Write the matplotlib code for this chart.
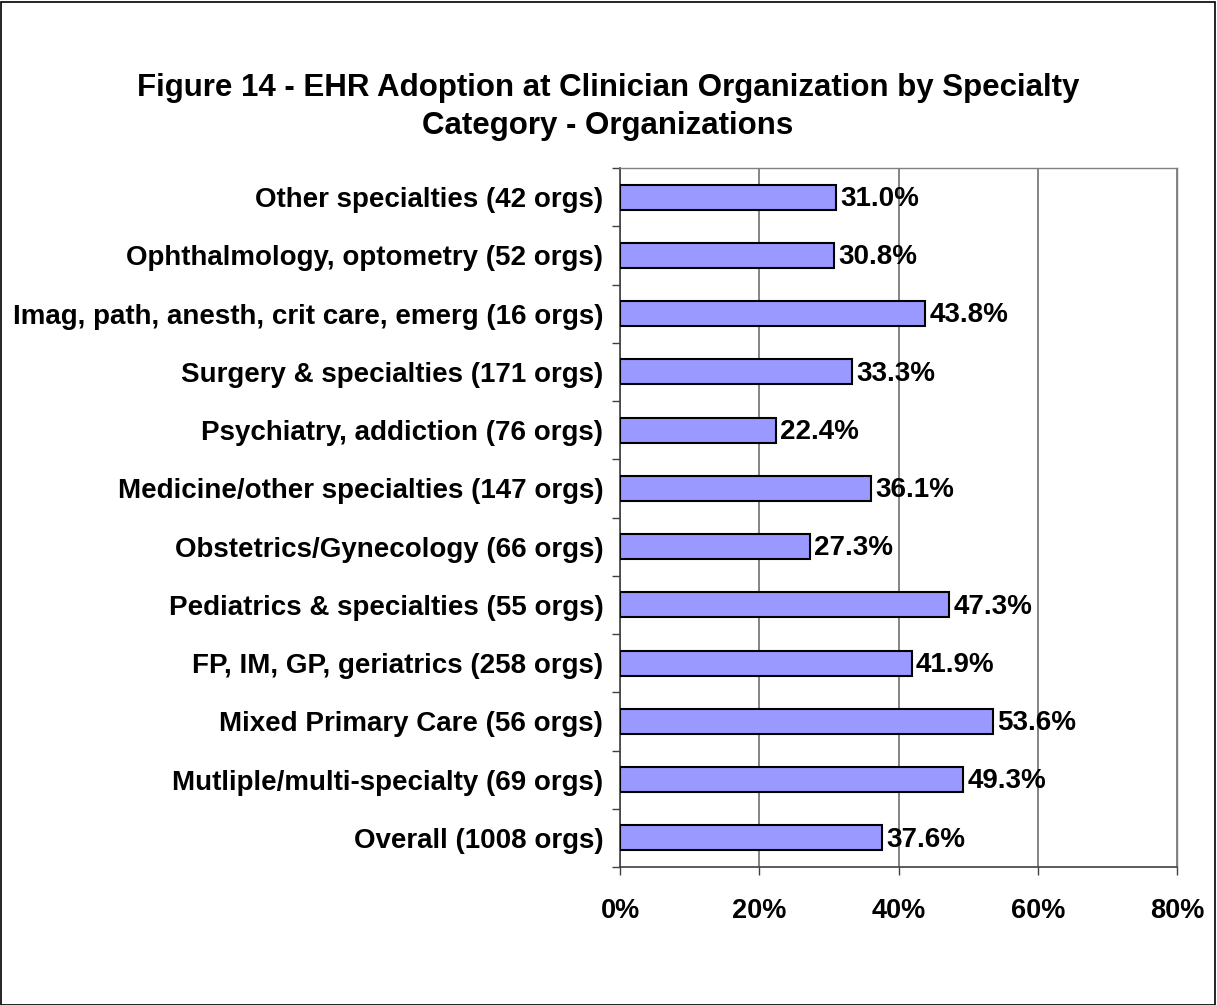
import matplotlib
matplotlib.use("Agg")
import matplotlib.pyplot as plt
from matplotlib.patches import Rectangle
import numpy as np

categories = [
    "Other specialties (42 orgs)",
    "Ophthalmology, optometry (52 orgs)",
    "Imag, path, anesth, crit care, emerg (16 orgs)",
    "Surgery & specialties (171 orgs)",
    "Psychiatry, addiction (76 orgs)",
    "Medicine/other specialties (147 orgs)",
    "Obstetrics/Gynecology (66 orgs)",
    "Pediatrics & specialties (55 orgs)",
    "FP, IM, GP, geriatrics (258 orgs)",
    "Mixed Primary Care (56 orgs)",
    "Mutliple/multi-specialty (69 orgs)",
    "Overall (1008 orgs)",
]
values = [31.0, 30.8, 43.8, 33.3, 22.4, 36.1, 27.3, 47.3, 41.9, 53.6, 49.3, 37.6]
xticks = [0, 20, 40, 60, 80]
xticklabels = ["0%", "20%", "40%", "60%", "80%"]
title = "Figure 14 - EHR Adoption at Clinician Organization by Specialty\nCategory - Organizations"

plt.rcParams['font.family'] = ['Liberation Sans', 'DejaVu Sans']

W, H = 1217, 1005
fig = plt.figure(figsize=(W / 100, H / 100), dpi=100)
ax = fig.add_axes([620 / W, 1 - 867 / H, (1177 - 620) / W, (867 - 168) / H])

n = len(categories)
y = np.arange(n)[::-1]
ax.barh(y, values, height=0.43, color="#9999FF", edgecolor="black", linewidth=1.5, zorder=3)
ax.set_ylim(-0.5, n - 0.5)
ax.set_xlim(0, 80)

for yi, v in zip(y, values):
    ax.text(v + 0.6, yi - 0.03, f"{v:.1f}%", va="center", ha="left", fontsize=20,
            fontweight="bold", zorder=4)

ax.set_yticks(y)
ax.set_yticklabels(categories, fontsize=20, fontweight="bold")
ax.tick_params(axis="y", which="major", length=0, pad=12)
ax.set_yticks(np.arange(-0.5, n, 1.0), minor=True)
ax.tick_params(axis="y", which="minor", length=6, width=1, color="#404040", direction="out")

ax.set_xticks(xticks)
ax.set_xticklabels(xticklabels, fontsize=19.5, fontweight="bold")
ax.tick_params(axis="x", length=6, width=1, color="#404040", direction="out", pad=16)

ax.grid(axis="x", color="#707070", linewidth=1.2, zorder=0)
for s in ["top", "right"]:
    ax.spines[s].set_color("#808080")
    ax.spines[s].set_linewidth(1.0)
for s in ["left", "bottom"]:
    ax.spines[s].set_color("#404040")
    ax.spines[s].set_linewidth(1.2)

fig.text(608 / W, 1 - 107 / H, title, ha="center", va="center", fontsize=22.5,
         fontweight="bold", linespacing=1.32)

fig.patches.append(Rectangle((1 / W, 0), 1 - 3 / W, 1 - 2 / H, transform=fig.transFigure,
                             fill=False, edgecolor="black", linewidth=1.2))

fig.savefig("out.png", dpi=100)
